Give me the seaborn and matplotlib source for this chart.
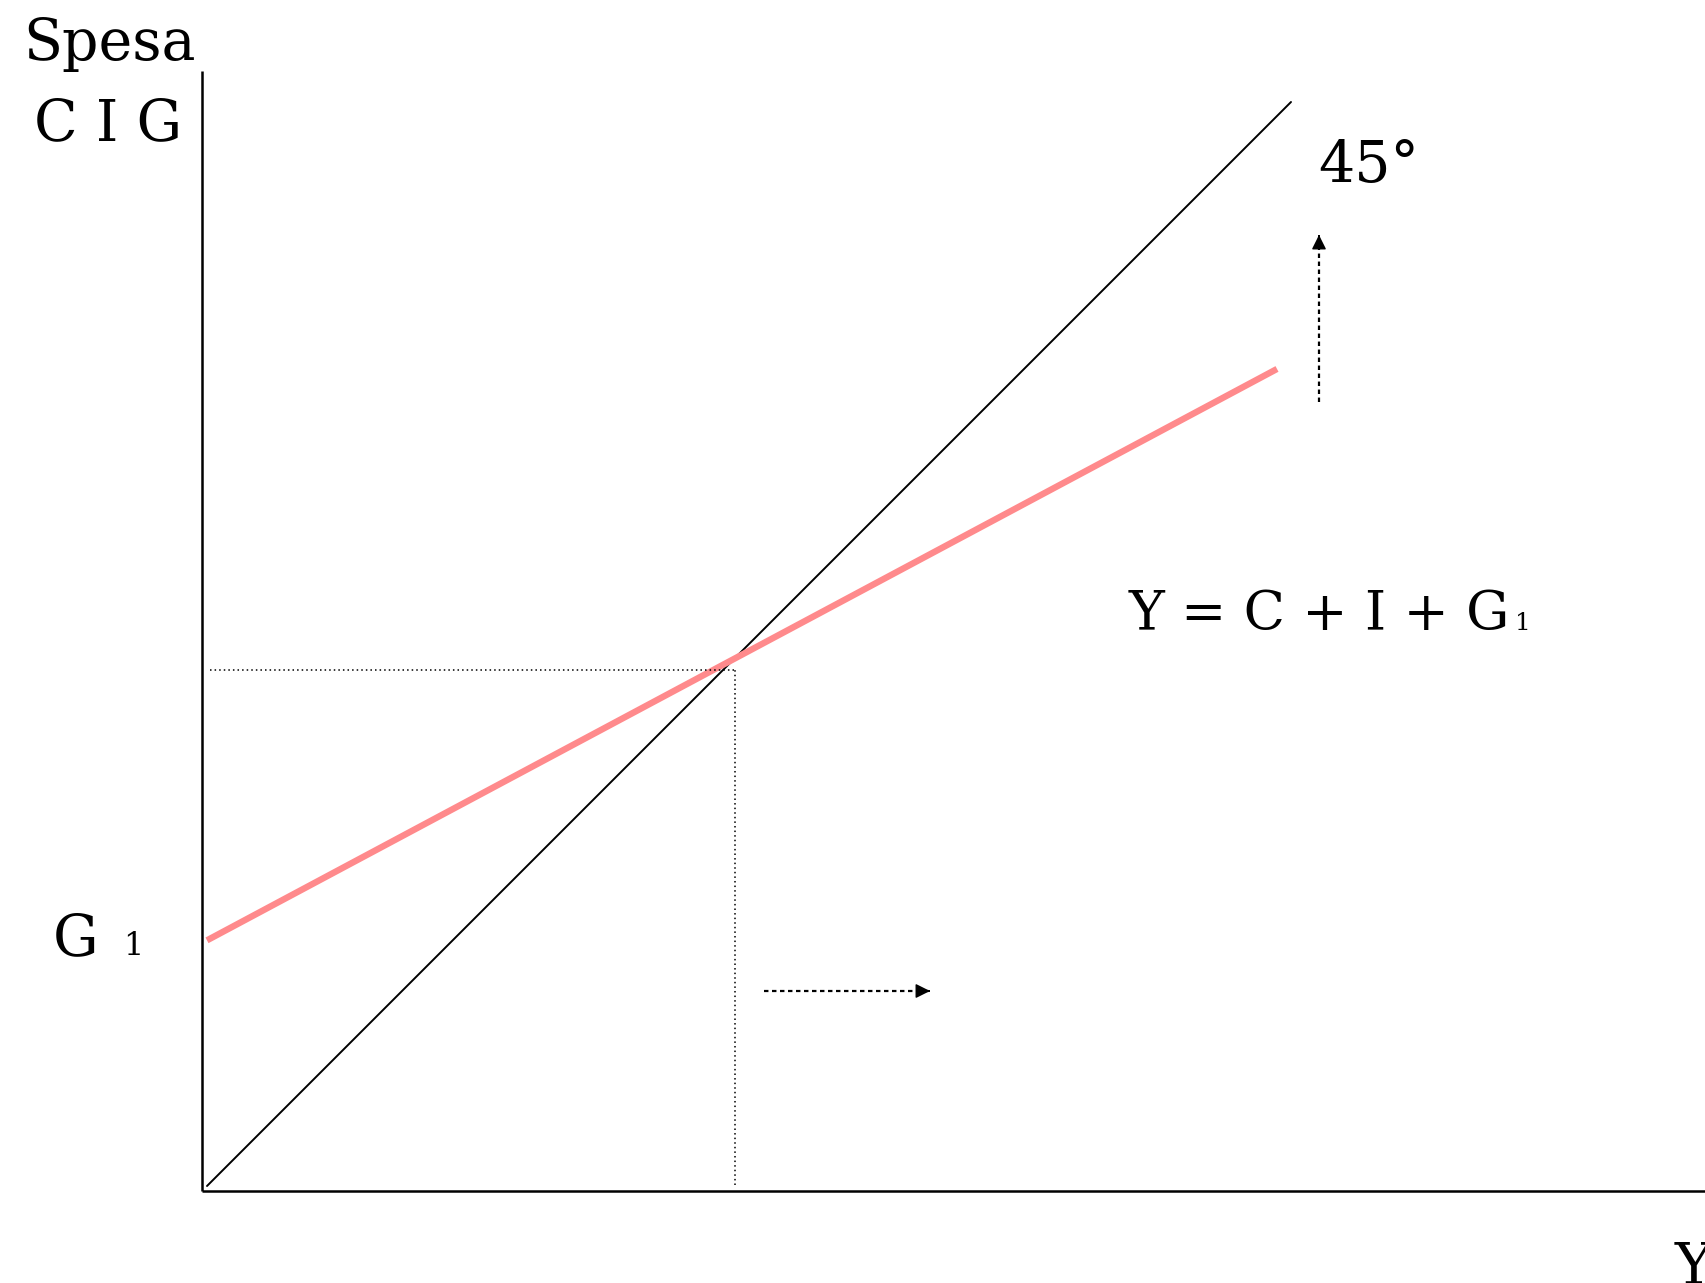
import seaborn as sns
import matplotlib.pyplot as plt
import pandas as pd
import numpy as np

# --- dati del diagramma keynesiano (unità: 1 = 10 px) ---
reddito_45 = [0.5, 108.9]          # estremi della retta a 45°
G1 = 24.8                          # intercetta della spesa autonoma
c_marg = 0.534                     # propensione marginale al consumo
reddito_ad = [0.5, 107.5]          # estremi della retta C + I + G1
linea_eq_y = 52.1                  # livello della linea punteggiata orizzontale
linea_eq_x = 53.3                  # posizione della linea punteggiata verticale
freccia_dx = ([56.2, 72.8], [20.0, 20.0])
freccia_su = ([111.7, 111.7], [78.9, 95.6])

sns.set_theme(style='white')
plt.rcParams.update({
    'font.family': ['DejaVu Serif'],
    'text.color': 'black',
    'figure.facecolor': 'white',
    'axes.facecolor': 'white',
})

df45 = pd.DataFrame({'Y': reddito_45, 'spesa': reddito_45})
df_ad = pd.DataFrame({'Y': reddito_ad,
                      'spesa': [G1 + c_marg * y for y in reddito_ad]})

fig = plt.figure(figsize=(17.05, 12.83), dpi=100)
ax = fig.add_axes([0, 0, 1, 1])
ax.set_xlim(-20.2, 150.3)
ax.set_ylim(-9.2, 119.1)
ax.axis('off')

# assi
ax.plot([0, 0], [0, 112], color='black', lw=1.8, solid_capstyle='butt')
ax.plot([0, 150.3], [0, 0], color='black', lw=1.8, solid_capstyle='butt')

# retta a 45° e domanda aggregata
sns.lineplot(data=df45, x='Y', y='spesa', color='black', lw=1.4, ax=ax)
sns.lineplot(data=df_ad, x='Y', y='spesa', color='#ff8a8c', lw=4.6, ax=ax,
             solid_capstyle='butt')

# linee punteggiate dell'equilibrio
ax.plot([0.8, linea_eq_x], [linea_eq_y, linea_eq_y], color='black', lw=1.1,
        linestyle=(0, (1, 2)))
ax.plot([linea_eq_x, linea_eq_x], [0.6, linea_eq_y], color='black', lw=1.1,
        linestyle=(0, (1, 2)))

# frecce tratteggiate
for xs, ys in (freccia_dx, freccia_su):
    ax.plot(xs, ys, color='black', lw=1.6, linestyle=(0, (2, 1.6)))
    ax.annotate('', xy=(xs[1], ys[1]),
                xytext=(xs[1] - 0.1 * np.sign(xs[1] - xs[0]),
                        ys[1] - 0.1 * np.sign(ys[1] - ys[0])),
                arrowprops=dict(arrowstyle='-|>', color='black', lw=1,
                                mutation_scale=22, shrinkA=0, shrinkB=0))

# testi
fs = 41
ax.text(-9.3, 113.1, 'Spesa', ha='center', va='baseline', fontsize=fs)
ax.text(-9.4, 105.1, 'C I G', ha='center', va='baseline', fontsize=fs)
ax.text(111.6, 100.9, '45°', ha='left', va='baseline', fontsize=fs)
ax.text(130.8, 56.1, 'Y = C + I + G', ha='right', va='baseline', fontsize=39)
ax.text(131.3, 56.1, '1', ha='left', va='baseline', fontsize=18)
ax.text(-14.9, 23.6, 'G', ha='left', va='baseline', fontsize=fs)
ax.text(-7.9, 23.6, '1', ha='left', va='baseline', fontsize=23)
ax.text(147.3, -4.9, 'Y', ha='left', va='top', fontsize=fs)

fig.savefig('out.png', dpi=100)
